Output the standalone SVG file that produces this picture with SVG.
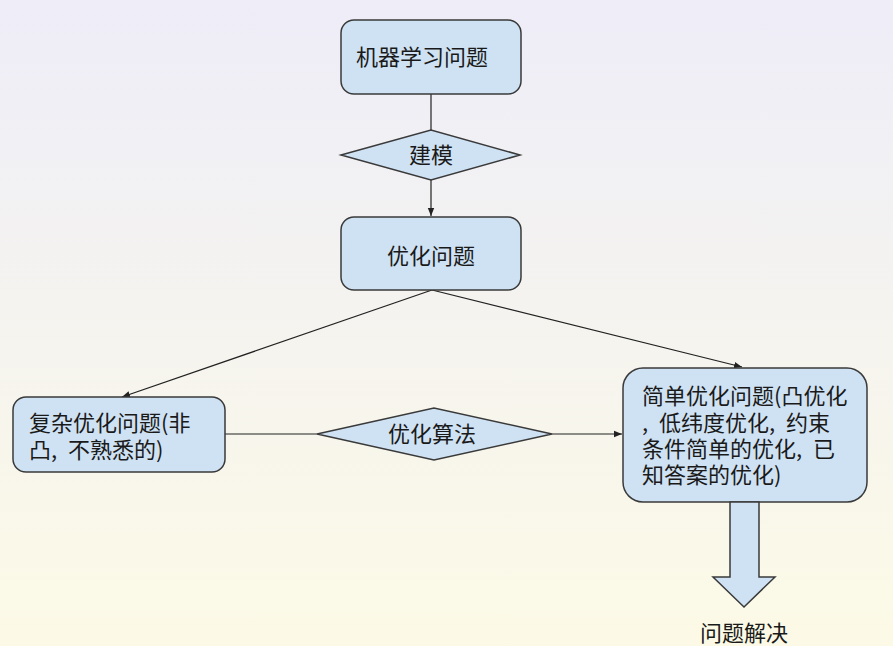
<svg xmlns="http://www.w3.org/2000/svg" width="893" height="646" viewBox="0 0 893 646">
  <defs>
    <linearGradient id="bg" x1="0" y1="0" x2="0" y2="1">
      <stop offset="0" stop-color="#eeedf8"/>
      <stop offset="1" stop-color="#fcfae6"/>
    </linearGradient>
    <marker id="arr" viewBox="0 0 10 10" refX="10" refY="5" markerWidth="8" markerHeight="8" markerUnits="userSpaceOnUse" orient="auto">
      <path d="M0,1 L10,5 L0,9 Z" fill="#222"/>
    </marker>
    <style>
      .shape { fill: #cfe2f3; stroke: #3a3a3a; stroke-width: 1.5; }
      .conn { fill: none; stroke: #222; stroke-width: 1.2; }
      text { font-family: "Noto Sans CJK SC", "Noto Sans", sans-serif; font-size: 22px; fill: #1a1a1a; }
      .c { text-anchor: middle; }
      .ws { word-spacing: 6px; }
    </style>
  </defs>
  <rect width="893" height="646" fill="url(#bg)"/>

  <g id="connectors">
    <line class="conn" x1="431" y1="94" x2="431" y2="130"/>
    <line class="conn" x1="431" y1="180" x2="431" y2="216" marker-end="url(#arr)"/>
    <line class="conn" x1="432" y1="290" x2="122" y2="397" marker-end="url(#arr)"/>
    <line class="conn" x1="432" y1="290" x2="742" y2="367" marker-end="url(#arr)"/>
    <line class="conn" x1="225" y1="434" x2="317" y2="434"/>
    <line class="conn" x1="552" y1="434" x2="622" y2="434" marker-end="url(#arr)"/>
  </g>

  <g id="node-ml">
    <rect class="shape" x="341" y="20" width="180" height="74" rx="13"/>
    <text x="356" y="65">机器学习问题</text>
  </g>

  <g id="node-modeling">
    <polygon class="shape" points="341,155 431,130 520,155 431,180"/>
    <text class="c" x="431" y="163">建模</text>
  </g>

  <g id="node-opt">
    <rect class="shape" x="341" y="217" width="180" height="73" rx="13"/>
    <text class="c" x="431" y="264">优化问题</text>
  </g>

  <g id="node-complex">
    <rect class="shape" x="13" y="397" width="212" height="75" rx="13"/>
    <text x="29" y="431">复杂优化问题(非</text>
    <text class="ws" x="29" y="458">凸, 不熟悉的)</text>
  </g>

  <g id="node-algo">
    <polygon class="shape" points="317,434 434,408 552,434 434,460"/>
    <text class="c" x="432" y="442">优化算法</text>
  </g>

  <g id="node-simple">
    <rect class="shape" x="623" y="368" width="244" height="134" rx="20"/>
    <text x="642" y="404">简单优化问题(凸优化</text>
    <text class="ws" x="642" y="431">, 低纬度优化, 约束</text>
    <text class="ws" x="642" y="457">条件简单的优化, 已</text>
    <text x="642" y="483">知答案的优化)</text>
  </g>

  <g id="node-solved">
    <polygon class="shape" points="730,502 759,502 759,577 775,577 744,607 713,577 730,577"/>
    <text class="c" x="744" y="641">问题解决</text>
  </g>
</svg>
